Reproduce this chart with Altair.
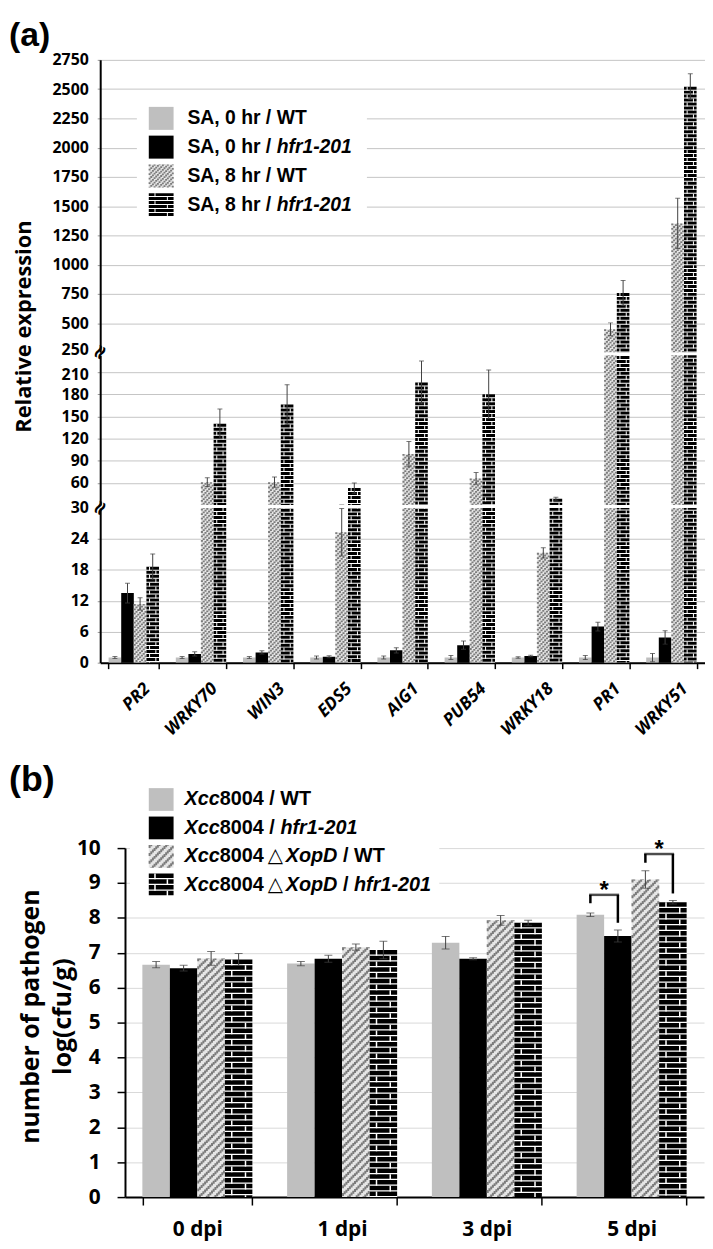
import altair as alt
import pandas as pd

# ---------------- panel (a) data ----------------
genes = ["PR2", "WRKY70", "WIN3", "EDS5", "AIG1", "PUB54", "WRKY18", "PR1", "WRKY51"]
series_a = ["SA, 0 hr / WT", "SA, 0 hr / hfr1-201", "SA, 8 hr / WT", "SA, 8 hr / hfr1-201"]
sa0_wt = [1.0, 1.0, 1.0, 1.0, 1.0, 1.0, 1.0, 1.0, 1.0]
sa0_wt_err = [0.2, 0.2, 0.2, 0.3, 0.3, 0.4, 0.15, 0.4, 0.8]
sa0_hfr = [13.5, 1.7, 2.0, 1.15, 2.4, 3.4, 1.3, 7.0, 4.9]
sa0_hfr_err = [1.9, 0.4, 0.3, 0.2, 0.5, 0.8, 0.15, 0.85, 1.3]
sa8_wt = [11.4, 61, 61, 25.3, 99, 66, 21.3, 447, 1352]
sa8_wt_err = [1.2, 6, 7, 4.6, 17, 8, 1.0, 55, 215]
sa8_hfr = [18.6, 140, 166, 53, 196, 180, 38.5, 758, 2521]
sa8_hfr_err = [2.5, 20, 27, 7, 29, 33, 2, 107, 110]

ticks_top = [250, 500, 750, 1000, 1250, 1500, 1750, 2000, 2250, 2500, 2750]
ticks_mid = [60, 90, 120, 150, 180, 210]
ticks_bot = [0, 6, 12, 18, 24, 30]

legend_a_prefix = ["SA, 0 hr /", "SA, 0 hr /", "SA, 8 hr /", "SA, 8 hr /"]
legend_a_suffix = ["WT", "hfr1-201", "WT", "hfr1-201"]
legend_a_italic = [False, True, False, True]

# ---------------- panel (b) data ----------------
days = ["0 dpi", "1 dpi", "3 dpi", "5 dpi"]
series_b = ["Xcc8004 / WT", "Xcc8004 / hfr1-201", "Xcc8004\u25b3XopD / WT", "Xcc8004\u25b3XopD / hfr1-201"]
xcc_wt = [6.66, 6.69, 7.29, 8.09]
xcc_wt_err = [0.09, 0.06, 0.18, 0.05]
xcc_hfr = [6.56, 6.83, 6.83, 7.48]
xcc_hfr_err = [0.08, 0.10, 0.03, 0.17]
xopd_wt = [6.84, 7.16, 7.93, 9.10]
xopd_wt_err = [0.20, 0.09, 0.14, 0.25]
xopd_hfr = [6.81, 7.08, 7.86, 8.45]
xopd_hfr_err = [0.17, 0.25, 0.07, 0.05]
ticks_b = [0, 1, 2, 3, 4, 5, 6, 7, 8, 9, 10]

sig_day = ["5 dpi", "5 dpi"]
sig_left = [0, 2]     # series index of the left bar of each bracket
sig_right = [1, 3]
sig_top = [8.66, 9.83]
sig_left_end = [8.42, 9.58]
sig_right_end = [7.86, 8.70]

legend_b_parts = [
    [("Xcc", "i"), ("8004 / WT", "n")],
    [("Xcc", "i"), ("8004 / ", "n"), ("hfr1-201", "i")],
    [("Xcc", "i"), ("8004", "n"), ("\u25b3", "t"), ("XopD", "i"), (" / WT", "n")],
    [("Xcc", "i"), ("8004", "n"), ("\u25b3", "t"), ("XopD", "i"), (" / ", "n"), ("hfr1-201", "i")],
]

patterns = ["gray", "black", "hatch", "brick"]

# ---------------- style ----------------
FONT = "Open Sans"
LFONT = "Liberation Sans"
GRAY = "#bfbfbf"
HATCH_BG = "#e6e6e6"
HATCH_FG = "#7c7c7c"
ERR = "#404040"

W_A = 610
H_TOP, H_MID, H_BOT = 295, 151, 156
DOM_TOP, DOM_MID, DOM_BOT = [250, 2750], [30, 232.7], [0, 30]
PAD_A = 0.25
BAR_A = W_A / 9 * (1 - PAD_A) / 4

W_B, H_B = 610, 352
XB0 = 25                      # left shift of panel (b) plot inside its group
XR_B = [XB0, W_B - 1]
PAD_B = 0.24
BAR_B = (XR_B[1] - XR_B[0]) / 4 * (1 - PAD_B) / 4

# texture settings: (hatch dash, brick dash, brick joint width)
TEX_A = dict(hatch=[1.8, 2.7], brick=[3, 1], joint=1.0)
TEX_B = dict(hatch=[3, 5], brick=[4.5, 1.3], joint=1.5)

AW = {" ": 278, ",": 278, "-": 333, "/": 278, "A": 722, "D": 722, "S": 667, "T": 611,
      "W": 944, "X": 667, "c": 556, "f": 333, "h": 611, "o": 611, "p": 611, "r": 389}
for d in "0123456789":
    AW[d] = 556


def tw(s, fs):
    return sum(AW.get(ch, 556) for ch in s) / 1000 * fs


def long_table(cats, series, vals, errs):
    rows = []
    for s, p, vl, el in zip(series, patterns, vals, errs):
        for c, v, e in zip(cats, vl, el):
            rows.append({"cat": c, "series": s, "pattern": p, "value": v, "lo": v - e, "hi": v + e})
    return pd.DataFrame(rows)


df_a = long_table(genes, series_a, [sa0_wt, sa0_hfr, sa8_wt, sa8_hfr],
                  [sa0_wt_err, sa0_hfr_err, sa8_wt_err, sa8_hfr_err])
df_b = long_table(days, series_b, [xcc_wt, xcc_hfr, xopd_wt, xopd_hfr],
                  [xcc_wt_err, xcc_hfr_err, xopd_wt_err, xopd_hfr_err])


def hatch_layers(base, enc, width, center, tex, clip):
    """diagonal hatching made of narrow dashed rules with stepped dash offsets"""
    ncol = max(4, int(round(width / 1.7)))
    cw = width / ncol
    out = []
    for k in range(ncol):
        xo = center - width / 2 + cw * (k + 0.5)
        out.append(base.mark_rule(color=HATCH_FG, strokeWidth=cw + 0.3, strokeDash=tex["hatch"],
                                  strokeDashOffset=k * cw, xOffset=xo, clip=clip).encode(**enc))
    return out


def brick_layers(base, enc, width, center, tex, clip):
    """brick texture: black courses separated by white mortar with staggered joints"""
    per = tex["brick"][0] + tex["brick"][1]
    return [
        base.mark_rule(color="black", strokeWidth=width, strokeDash=tex["brick"],
                       xOffset=center, clip=clip).encode(**enc),
        base.mark_rule(color="white", strokeWidth=tex["joint"], strokeDash=[per, per],
                       xOffset=center - width / 4, clip=clip).encode(**enc),
        base.mark_rule(color="white", strokeWidth=tex["joint"], strokeDash=[per, per],
                       strokeDashOffset=per, xOffset=center + width / 4, clip=clip).encode(**enc),
    ]


def main_layers(df, cats, ydom, xaxis, yaxis, pad, bar_w, cap_w, tex, xrange=None):
    sc = dict(domain=cats, paddingInner=pad, paddingOuter=pad / 2)
    if xrange is not None:
        sc["range"] = xrange
    X = alt.X("cat:N", sort=cats, axis=xaxis, scale=alt.Scale(**sc))
    ysc = alt.Scale(domain=ydom, nice=False, zero=False)

    def Y(f):
        return alt.Y(f"{f}:Q", scale=ysc, axis=yaxis)

    z = alt.Y2Datum(0)
    bars, errs = [], []
    for i, p in enumerate(patterns):
        off = (i - 1.5) * bar_w
        b = alt.Chart(df).transform_filter(alt.datum.pattern == p).encode(x=X)
        enc = dict(y=Y("value"), y2=z)
        if p == "gray":
            bars.append(b.mark_bar(color=GRAY, width=bar_w, xOffset=off, clip=True).encode(**enc))
        elif p == "black":
            bars.append(b.mark_bar(color="black", width=bar_w, xOffset=off, clip=True).encode(**enc))
        elif p == "hatch":
            bars.append(b.mark_bar(color=HATCH_BG, width=bar_w, xOffset=off, clip=True).encode(**enc))
            bars += hatch_layers(b, enc, bar_w, off, tex, True)
        else:
            bars.append(b.mark_bar(color="white", width=bar_w, xOffset=off, clip=True).encode(**enc))
            bars += brick_layers(b, enc, bar_w, off, tex, True)
        errs.append(b.mark_rule(color=ERR, strokeWidth=1, xOffset=off, clip=True).encode(y=Y("lo"), y2="hi:Q"))
        errs.append(b.mark_tick(color=ERR, size=cap_w, thickness=1, xOffset=off, clip=True).encode(y=Y("hi")))
        errs.append(b.mark_tick(color=ERR, size=cap_w, thickness=1, xOffset=off, clip=True).encode(y=Y("lo")))
    return X, Y, bars + errs


def y_axis_a(values, hide=None, lift=None):
    kw = dict(values=values, title=None, format="d", grid=True, gridColor="#c4c4c4", gridWidth=1,
              tickSize=3, tickColor="#9a9a9a", domainColor="black", domainWidth=2,
              labelFont=FONT, labelFontWeight="bold", labelFontSize=16, labelColor="black",
              labelPadding=9, labelFlush=False)
    if hide is not None:
        cond = {"condition": {"test": f"datum.value == {hide}", "value": 0}, "value": 1}
        kw["gridOpacity"] = cond
        kw["tickOpacity"] = cond
    if lift is not None:
        kw["labelOffset"] = {"condition": {"test": f"datum.value == {lift[0]}", "value": lift[1]}, "value": 0}
    return alt.Axis(**kw)


def text_mark(txt, x, y, **props):
    return alt.Chart(pd.DataFrame({"t": [txt]})).mark_text(**props).encode(
        text="t:N", x=alt.value(x), y=alt.value(y))


def box_mark(x, x2, y, y2):
    return alt.Chart(pd.DataFrame({"t": [0]})).mark_rect(color="white").encode(
        x=alt.value(x), x2=alt.value(x2), y=alt.value(y), y2=alt.value(y2))


def legend_swatches(series, sw, r0, r1, tex):
    """legend squares; row positions follow a band layout over [r0, r1]"""
    step = (r1 - r0) / len(series)
    half = 0.8 * step / 2
    one = alt.Chart(pd.DataFrame({"t": [0]}))
    cx = (sw[0] + sw[1]) / 2
    w = sw[1] - sw[0]
    out = []
    for i, p in enumerate(patterns):
        c = r0 + step * (i + 0.5)
        enc_r = dict(x=alt.value(sw[0]), x2=alt.value(sw[1]), y=alt.value(c - half), y2=alt.value(c + half))
        fill = {"gray": GRAY, "black": "black", "hatch": HATCH_BG, "brick": "white"}[p]
        out.append(one.mark_rect(color=fill).encode(**enc_r))
        enc_l = dict(x=alt.value(cx), y=alt.value(c - half), y2=alt.value(c + half))
        if p == "hatch":
            out += hatch_layers(one, enc_l, w, 0, tex, False)
        elif p == "brick":
            out += brick_layers(one, enc_l, w, 0, tex, False)
    return out


x_axis_a = alt.Axis(title=None, labelAngle=-45, labelAlign="right", labelBaseline="top",
                    labelFont=FONT, labelFontStyle="italic", labelFontWeight="bold",
                    labelFontSize=17.5, labelColor="black", labelOffset=7, labelPadding=11,
                    tickBand="extent", tickSize=6, tickColor="black", tickWidth=1.5,
                    domainColor="black", domainWidth=2)

_, _, L_top = main_layers(df_a, genes, DOM_TOP, None, y_axis_a(ticks_top, 250, (250, -3)),
                          PAD_A, BAR_A, 5, TEX_A)
_, _, L_mid = main_layers(df_a, genes, DOM_MID, None, y_axis_a(ticks_mid, None, (210, 2)),
                          PAD_A, BAR_A, 5, TEX_A)
_, _, L_bot = main_layers(df_a, genes, DOM_BOT, x_axis_a, y_axis_a(ticks_bot, 30),
                          PAD_A, BAR_A, 5, TEX_A)

# legend (a)
leg_a = pd.DataFrame({"series": series_a, "pattern": patterns, "prefix": legend_a_prefix,
                      "suffix": legend_a_suffix, "italic": legend_a_italic})
RA = [44.5, 160.5]
YLa = alt.Y("series:N", sort=series_a, axis=None,
            scale=alt.Scale(domain=series_a, range=RA, paddingInner=0.2, paddingOuter=0.1))
la = alt.Chart(leg_a)
SUF_X = 88 + tw("SA, 0 hr / ", 19.5)
legend_a = alt.layer(
    *legend_swatches(series_a, (49, 74), RA[0], RA[1], TEX_A),
    la.mark_text(align="left", baseline="middle", font=LFONT, fontWeight="bold", fontSize=19.5,
                 color="black").encode(x=alt.value(88), y=YLa, text="prefix:N"),
    la.transform_filter(alt.datum.italic == False).mark_text(
        align="left", baseline="middle", font=LFONT, fontWeight="bold", fontSize=19.5,
        color="black").encode(x=alt.value(SUF_X), y=YLa, text="suffix:N"),
    la.transform_filter(alt.datum.italic == True).mark_text(
        align="left", baseline="middle", font=LFONT, fontWeight="bold", fontStyle="italic",
        fontSize=19.5, color="black").encode(x=alt.value(SUF_X), y=YLa, text="suffix:N"),
)

brk = dict(font="DejaVu Sans", fontSize=20, fontWeight="bold", angle=300, align="center",
           baseline="middle", color="black")

# invisible (white) rule that fixes the top edge of the whole picture
top_edge = alt.Chart(pd.DataFrame({"t": [0]})).mark_rule(color="white", strokeWidth=1).encode(
    x=alt.value(-92), x2=alt.value(-60), y=alt.value(-46))

top = alt.layer(
    alt.layer(*L_top),
    box_mark(37, 269, 43, 161),
    legend_a,
    top_edge,
    text_mark("(a)", -92, -14, font=LFONT, fontSize=34, fontWeight="bold", align="left",
              baseline="alphabetic", color="black"),
    text_mark("Relative expression", -77, 269, font=FONT, fontSize=22, fontWeight="bold",
              angle=270, align="center", baseline="middle", color="black"),
    text_mark("\u2248", 0, H_TOP, **brk),
).resolve_scale(x="independent", y="independent").properties(width=W_A, height=H_TOP)

mid = alt.layer(*L_mid).properties(width=W_A, height=H_MID)
bot = alt.layer(*L_bot, text_mark("\u2248", 0, 0, **brk)).properties(width=W_A, height=H_BOT)

panel_a = alt.vconcat(top, mid, bot, spacing=3, bounds="flush")

# ---------------- panel (b) ----------------
x_axis_b = alt.Axis(title=None, labelAngle=0, labelFont=FONT, labelFontWeight="bold", labelFontSize=21,
                    labelColor="black", labelPadding=14, tickBand="extent", tickSize=8,
                    tickColor="black", tickWidth=1.5, domainColor="black", domainWidth=2)
y_axis_b = alt.Axis(values=ticks_b, title=None, grid=True, gridColor="#d9d9d9", gridWidth=1,
                    tickSize=8, tickColor="black", tickWidth=1.5, domainColor="black", domainWidth=2,
                    labelFont=FONT, labelFontWeight="bold", labelFontSize=21, labelColor="black",
                    labelPadding=17, labelFlush=False, offset=-XB0)
XB, YB, L_b = main_layers(df_b, days, [0, 10], x_axis_b, y_axis_b,
                          PAD_B, BAR_B, 8, TEX_B, xrange=XR_B)

sig_layers = []
for k in range(len(sig_day)):
    offl = (sig_left[k] - 1.5) * BAR_B
    offr = (sig_right[k] - 1.5) * BAR_B
    offc = (offl + offr) / 2
    dk = alt.Chart(pd.DataFrame({"cat": [sig_day[k]], "top": [sig_top[k]],
                                 "le": [sig_left_end[k]], "re": [sig_right_end[k]]}))
    sig_layers += [
        dk.mark_rule(color="black", strokeWidth=2.5, xOffset=offl).encode(x=XB, y=YB("top"), y2="le:Q"),
        dk.mark_rule(color="black", strokeWidth=2.5, xOffset=offr).encode(x=XB, y=YB("top"), y2="re:Q"),
        dk.mark_tick(color="black", thickness=2.5, size=offr - offl + 2.5, xOffset=offc).encode(
            x=XB, y=YB("top")),
        dk.mark_text(text="*", font=LFONT, fontSize=24, fontWeight="bold", xOffset=offc, dy=3,
                     baseline="alphabetic", color="black").encode(x=XB, y=YB("top")),
    ]

main_b = alt.layer(*L_b, *sig_layers)

# legend (b)
seg_rows = []
FS_B = 20
TX_B = XB0 + 60
for s, parts in zip(series_b, legend_b_parts):
    x = float(TX_B)
    for txt, style in parts:
        if style == "t":
            seg_rows.append({"series": s, "txt": txt, "style": style, "px": x + 0.2 * FS_B})
            x += 1.1 * FS_B
            continue
        lead = len(txt) - len(txt.lstrip())
        seg_rows.append({"series": s, "txt": txt.strip(), "style": style, "px": x + tw(txt[:lead], FS_B)})
        x += tw(txt, FS_B)
df_seg = pd.DataFrame(seg_rows)

RB = [-63.35, 51.35]
YLb = alt.Y("series:N", sort=series_b, axis=None,
            scale=alt.Scale(domain=series_b, range=RB, paddingInner=0.2, paddingOuter=0.1))
sg = alt.Chart(df_seg)
PX = alt.X("px:Q", scale=None, axis=None)
legend_b = alt.layer(
    *legend_swatches(series_b, (XB0 + 24, XB0 + 49), RB[0], RB[1], TEX_B),
    sg.transform_filter(alt.datum.style == "n").mark_text(
        align="left", baseline="middle", font=LFONT, fontWeight="bold", fontSize=FS_B,
        color="black").encode(x=PX, y=YLb, text="txt:N"),
    sg.transform_filter(alt.datum.style == "i").mark_text(
        align="left", baseline="middle", font=LFONT, fontWeight="bold", fontStyle="italic",
        fontSize=FS_B, color="black").encode(x=PX, y=YLb, text="txt:N"),
    sg.transform_filter(alt.datum.style == "t").mark_text(
        align="left", baseline="middle", font="DejaVu Sans", fontSize=FS_B,
        color="black").encode(x=PX, y=YLb, text="txt:N"),
)

panel_b = alt.layer(
    main_b,
    box_mark(XB0 + 5, XB0 + 317, -67, 53),
    legend_b,
    text_mark("(b)", -92, -58, font=LFONT, fontSize=36, fontWeight="bold", align="left",
              baseline="alphabetic", color="black"),
    text_mark("number of pathogen", -70, 170, font=FONT, fontSize=25, fontWeight="bold",
              angle=270, align="center", baseline="middle", color="black"),
    text_mark("log(cfu/g)", -37, 170, font=FONT, fontSize=25, fontWeight="bold",
              angle=270, align="center", baseline="middle", color="black"),
).resolve_scale(x="independent", y="independent").properties(width=W_B, height=H_B)

chart = alt.concat(panel_a, panel_b, columns=1, spacing=23).properties(
    padding={"left": 0, "top": 0, "right": 0, "bottom": 0}, background="white"
).configure_view(stroke=None)

chart.save("out.html", embed_options={"renderer": "svg", "actions": False})
